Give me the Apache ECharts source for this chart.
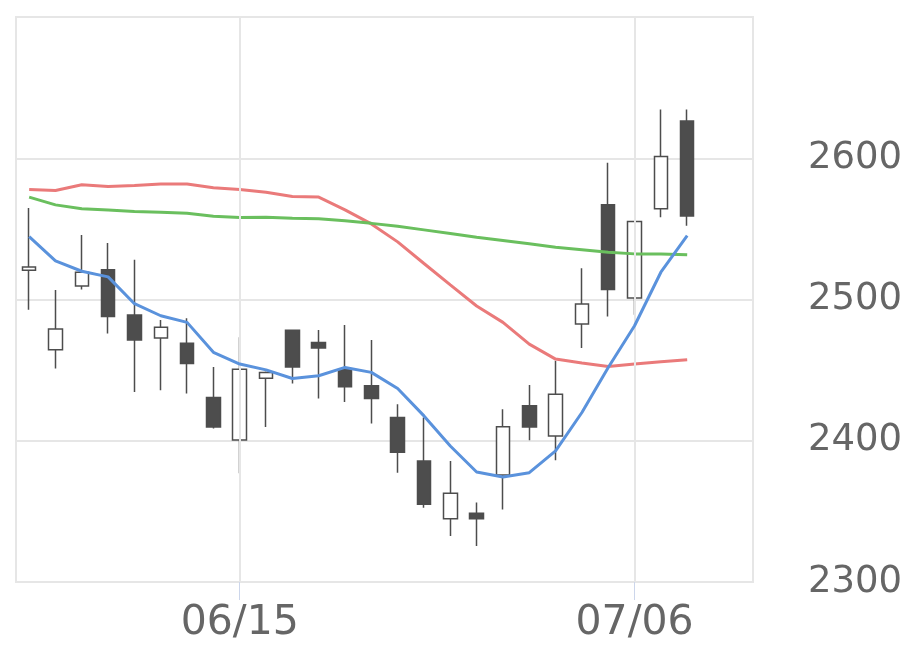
<!DOCTYPE html>
<html>
<head>
<meta charset="utf-8">
<script src="https://cdn.jsdelivr.net/npm/echarts@6/dist/echarts.min.js"></script>
<style>
html,body{margin:0;padding:0;background:#fff;}
#chart{width:920px;height:669px;}
</style>
</head>
<body>
<div id="chart"></div>
<script>
const categories = ['06/03','06/04','06/05','06/08','06/09','06/10','06/11','06/12',
  '06/15','06/16','06/17','06/18','06/19','06/22','06/23','06/24','06/25','06/26',
  '06/29','06/30','07/01','07/02','07/03','07/06','07/07','07/08','07/09','07/10'];
const labeledDates = ['06/15','07/06'];
// [open, close, low, high]
const ohlc = [
  [2520.7,2523.0,2492.8,2564.7],
  [2464.4,2479.1,2451.2,2506.7],
  [2509.6,2519.3,2507.0,2545.7],
  [2521.0,2488.0,2476.0,2540.0],
  [2489.0,2471.3,2434.6,2528.2],
  [2472.7,2480.3,2435.8,2485.5],
  [2469.0,2454.7,2433.5,2486.7],
  [2430.6,2409.8,2408.6,2452.3],
  [2400.6,2450.7,2377.0,2473.2],
  [2444.3,2448.4,2409.8,2449.0],
  [2478.2,2452.3,2440.6,2478.2],
  [2469.6,2465.6,2430.0,2478.4],
  [2450.5,2438.2,2427.5,2482.0],
  [2438.9,2429.9,2412.2,2471.3],
  [2416.5,2391.8,2377.4,2425.9],
  [2385.6,2355.1,2352.6,2416.5],
  [2344.8,2362.8,2332.5,2385.7],
  [2348.6,2344.8,2325.4,2356.2],
  [2375.7,2410.0,2351.4,2422.3],
  [2424.7,2409.8,2400.4,2439.4],
  [2403.4,2433.0,2386.2,2456.6],
  [2482.6,2496.8,2465.6,2522.1],
  [2567.0,2507.0,2488.0,2596.8],
  [2501.0,2555.2,2489.2,2555.2],
  [2564.2,2601.3,2558.3,2634.6],
  [2626.4,2559.2,2552.3,2634.6]
];
const ma5 = [2544.5,2527.3,2520.0,2516.0,2497.0,2488.5,2483.8,2462.6,2454.3,2450.2,
  2444.1,2446.0,2451.9,2448.4,2437.0,2417.6,2396.3,2377.9,2374.3,2377.4,
  2392.8,2420.0,2451.9,2481.4,2519.3,2545.2];
const ma25 = [2577.9,2577.2,2581.2,2580.0,2580.7,2581.7,2581.7,2579.1,2577.9,2576.0,
  2572.9,2572.5,2563.5,2553.5,2540.8,2525.5,2510.3,2495.4,2483.8,2468.4,
  2457.8,2455.0,2452.6,2454.3,2455.9,2457.3];
const ma75 = [2572.5,2567.0,2564.2,2563.3,2562.3,2561.8,2561.1,2559.0,2558.0,2558.3,
  2557.6,2557.1,2555.7,2553.9,2551.8,2549.3,2546.8,2544.0,2541.7,2539.4,
  2537.0,2535.3,2533.5,2532.3,2532.3,2531.6];
const yTicks = {min: 2300, max: 2700, interval: 100};

const chart = echarts.init(document.getElementById('chart'));
const gridColor = '#e6e6e6';
const showDate = (idx, val) => labeledDates.indexOf(val) >= 0;

chart.setOption({
  animation: false,
  grid: {left: 16, right: 167, top: 17, bottom: 87, show: true,
    borderColor: gridColor, borderWidth: 2, backgroundColor: 'transparent'},
  xAxis: {
    type: 'category', data: categories, boundaryGap: true,
    axisLine: {show: false},
    axisTick: {show: true, alignWithLabel: true, interval: showDate, length: 18,
      lineStyle: {color: '#ccd6eb', width: 1}},
    axisLabel: {interval: showDate, margin: 21, fontFamily: 'DejaVu Sans', fontSize: 41, color: '#666666'},
    splitLine: {show: false}
  },
  yAxis: {
    type: 'value', position: 'right', min: yTicks.min, max: yTicks.max, interval: yTicks.interval,
    axisLine: {show: false}, axisTick: {show: false},
    axisLabel: {margin: 55, showMaxLabel: false, fontFamily: 'DejaVu Sans', fontSize: 37,
      color: '#666666', formatter: v => String(v)},
    splitLine: {show: true, lineStyle: {color: gridColor, width: 2}}
  },
  series: [
    {
      type: 'line', data: [], z: 1, silent: true,
      markLine: {
        silent: true, symbol: 'none', label: {show: false},
        lineStyle: {color: gridColor, width: 2, type: 'solid'},
        data: labeledDates.map(d => ({xAxis: d}))
      }
    },
    {
      type: 'candlestick', data: ohlc, z: 3, barWidth: 14,
      itemStyle: {color: '#ffffff', color0: '#4d4d4d', borderColor: '#4d4d4d',
        borderColor0: '#4d4d4d', borderWidth: 1.5}
    },
    {type: 'line', data: ma25, z: 4, showSymbol: false, lineStyle: {color: '#ea7a7a', width: 3}, itemStyle: {color: '#ea7a7a'}},
    {type: 'line', data: ma75, z: 4, showSymbol: false, lineStyle: {color: '#6abf5e', width: 3}, itemStyle: {color: '#6abf5e'}},
    {type: 'line', data: ma5, z: 5, showSymbol: false, lineStyle: {color: '#5a92dc', width: 3}, itemStyle: {color: '#5a92dc'}}
  ]
});
</script>
</body>
</html>
